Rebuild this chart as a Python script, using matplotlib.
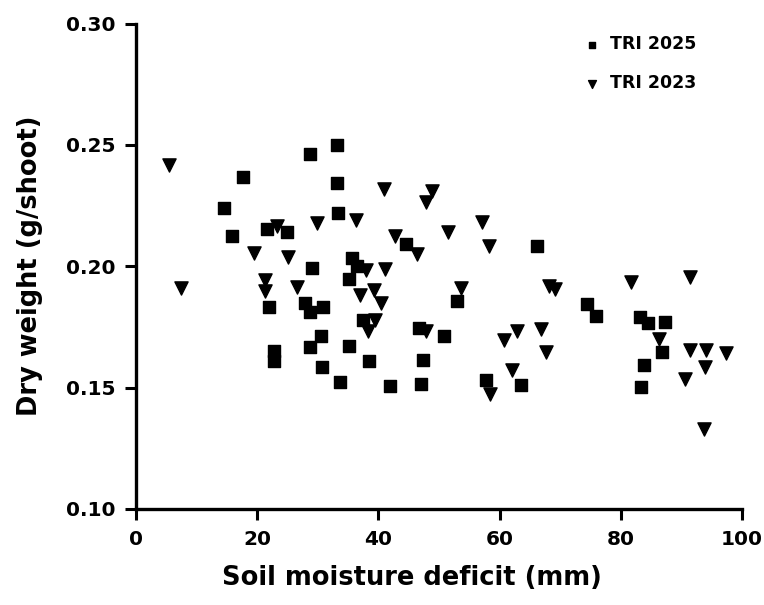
import matplotlib
matplotlib.use("Agg")
import matplotlib.pyplot as plt

# TRI 2025 (squares)
x2025 = [14.6, 15.9, 17.6, 21.7, 24.9, 22.0, 22.7, 22.7, 27.9, 28.8, 30.8, 28.8,
         29.1, 28.7, 30.5, 30.7, 33.1, 33.1, 33.4, 33.6, 35.2, 35.2, 35.7, 36.4,
         37.4, 38.5, 42.0, 44.6, 46.7, 47.3, 47.1, 50.9, 53.0, 57.8, 63.6, 66.2,
         74.5, 76.0, 83.2, 84.5, 87.3, 86.8, 83.9, 83.3]
y2025 = [0.224, 0.2123, 0.2368, 0.2153, 0.2141, 0.183, 0.1649, 0.1608, 0.1849, 0.181, 0.183, 0.2462,
         0.1991, 0.1666, 0.1711, 0.1583, 0.250, 0.2345, 0.2218, 0.1524, 0.1949, 0.1673, 0.2034, 0.1999,
         0.1777, 0.1611, 0.1508, 0.2093, 0.1745, 0.1615, 0.1515, 0.1711, 0.1855, 0.1529, 0.1512, 0.2085,
         0.1846, 0.1796, 0.1791, 0.1766, 0.1769, 0.1645, 0.1592, 0.1501]

# TRI 2023 (triangles)
x2023 = [5.5, 7.5, 19.5, 21.3, 21.3, 23.2, 25.1, 26.6, 29.9, 36.3, 38.0, 37.0,
         39.3, 40.5, 39.4, 38.3, 40.9, 41.1, 42.8, 46.4, 47.9, 48.8, 47.9, 51.5,
         53.6, 57.1, 58.3, 58.5, 60.7, 62.1, 62.9, 66.9, 67.6, 68.2, 69.2, 81.7,
         86.3, 90.6, 91.4, 91.5, 94.1, 94.0, 97.4, 93.8]
y2023 = [0.2418, 0.191, 0.2054, 0.1944, 0.1896, 0.2164, 0.2038, 0.1913, 0.2178, 0.2191, 0.1986, 0.1883,
         0.190, 0.1849, 0.178, 0.1732, 0.2318, 0.1988, 0.2123, 0.2051, 0.2263, 0.2312, 0.1732, 0.2139,
         0.191, 0.2184, 0.2084, 0.1474, 0.1695, 0.1571, 0.1732, 0.174, 0.1645, 0.192, 0.1906, 0.1933,
         0.170, 0.1533, 0.1956, 0.1656, 0.1656, 0.1585, 0.1643, 0.133]

plt.rcParams['font.family'] = 'DejaVu Sans'
plt.rcParams['font.weight'] = 'bold'

fig = plt.figure(figsize=(7.64, 6.05), dpi=100)
ax = fig.add_axes([0.178, 0.159, 0.793, 0.802])

ax.scatter(x2025, y2025, marker='s', s=64, color='black', label='TRI 2025')
ax.scatter(x2023, y2023, marker='v', s=90, color='black', label='TRI 2023')

ax.set_xlim(0, 100)
ax.set_ylim(0.10, 0.30)
ax.set_xticks([0, 20, 40, 60, 80, 100])
ax.set_yticks([0.10, 0.15, 0.20, 0.25, 0.30])
ax.set_yticklabels(['0.10', '0.15', '0.20', '0.25', '0.30'])

for s in ['top', 'right']:
    ax.spines[s].set_visible(False)
for s in ['left', 'bottom']:
    ax.spines[s].set_linewidth(2.4)

ax.tick_params(width=2.2, length=8, labelsize=14.5, pad=7)
for lab in ax.get_xticklabels() + ax.get_yticklabels():
    lab.set_fontweight('bold')

ax.set_xlabel('Soil moisture deficit (mm)', fontsize=18.5, fontweight='bold',
              labelpad=12, x=0.455)
ax.set_ylabel('Dry weight (g/shoot)', fontsize=18.5, fontweight='bold', labelpad=16)

leg = ax.legend(loc='upper left', bbox_to_anchor=(0.71, 1.008), frameon=False,
                labelspacing=1.2, handletextpad=0.4, handlelength=1.2,
                prop={'weight': 'bold', 'size': 12.5}, markerscale=0.6)

fig.savefig('out.png', dpi=100)
